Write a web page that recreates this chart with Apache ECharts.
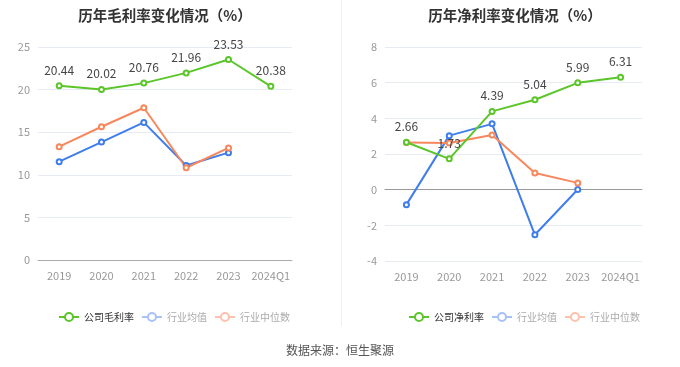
<!DOCTYPE html>
<html><head><meta charset="utf-8">
<script src="https://cdn.jsdelivr.net/npm/echarts@6/dist/echarts.min.js"></script>
<style>html,body{margin:0;padding:0;background:#fff}#c{width:680px;height:367px}</style>
</head><body><div id="c"></div>
<script>
const categories = ['2019','2020','2021','2022','2023','2024Q1'];
const grossCompany = [20.44, 20.02, 20.76, 21.96, 23.53, 20.38];
const grossIndustryAvg = [11.54, 13.84, 16.15, 11.1, 12.6, null];
const grossIndustryMedian = [13.3, 15.64, 17.87, 10.83, 13.15, null];
const netCompany = [2.66, 1.73, 4.39, 5.04, 5.99, 6.31];
const netIndustryAvg = [-0.84, 3.03, 3.69, -2.53, 0.01, null];
const netIndustryMedian = [2.64, 2.62, 3.07, 0.94, 0.38, null];
const leftTicks = {min: 0, max: 25, interval: 5};
const rightTicks = {min: -4, max: 8, interval: 2};

const GREEN = '#5bc52a', BLUE = '#3f7ded', ORANGE = '#f7875c';
const FONT = '"Noto Sans CJK SC", "Noto Sans", sans-serif';

function mkSeries(name, data, color, xi, yi, withLabel) {
  return {
    type: 'line', name, data, xAxisIndex: xi, yAxisIndex: yi,
    symbol: 'emptyCircle', symbolSize: 5,
    lineStyle: {color, width: 2}, itemStyle: {color, borderWidth: 1.5},
    label: withLabel ? {show: true, position: 'top', distance: 6, color: '#444', fontSize: 12, fontFamily: FONT} : {show: false},
    z: withLabel ? 3 : 2
  };
}
function legend(left, first) {
  return {
    left, top: 307, itemWidth: 20, itemHeight: 10, itemGap: 7,
    textStyle: {fontSize: 10, fontFamily: FONT, color: '#333'},
    data: [
      {name: first},
      {name: '行业均值', itemStyle: {color: '#a7c3f6', borderColor: '#a7c3f6'}, lineStyle: {color: '#a7c3f6'}, textStyle: {color: '#aaa'}},
      {name: '行业中位数', itemStyle: {color: '#fbc2ad', borderColor: '#fbc2ad'}, lineStyle: {color: '#fbc2ad'}, textStyle: {color: '#aaa'}}
    ]
  };
}
const xLabel = {color: '#999', fontSize: 11, fontFamily: FONT, margin: 10, interval: 0};
const yLabel = {color: '#999', fontSize: 11, fontFamily: FONT};
const split = {lineStyle: {color: '#e6ebf5'}};

const chart = echarts.init(document.getElementById('c'));
chart.setOption({
  animation: false,
  title: [
    {text: '历年毛利率变化情况（%）', left: 160, top: 3, textAlign: 'center', textStyle: {fontSize: 14.5, fontWeight: 'bold', color: '#333', fontFamily: FONT}},
    {text: '历年净利率变化情况（%）', left: 510, top: 3, textAlign: 'center', textStyle: {fontSize: 14.5, fontWeight: 'bold', color: '#333', fontFamily: FONT}}
  ],
  legend: [legend(53, '公司毛利率'), legend(403, '公司净利率')],
  grid: [
    {left: 38, right: 388, top: 47, bottom: 107},
    {left: 385, right: 38, top: 47, bottom: 106}
  ],
  xAxis: [
    {type: 'category', gridIndex: 0, data: categories, axisLabel: xLabel,
     axisLine: {lineStyle: {color: '#aaa'}}, axisTick: {alignWithLabel: true, interval: 0, lineStyle: {color: '#aaa'}}},
    {type: 'category', gridIndex: 1, data: categories, axisLabel: xLabel,
     axisLine: {onZero: false, show: false}, axisTick: {show: false}},
    {type: 'category', gridIndex: 1, data: categories, axisLabel: {show: false},
     axisLine: {onZero: true, lineStyle: {color: '#999'}}, axisTick: {alignWithLabel: true, interval: 0, lineStyle: {color: '#999'}}}
  ],
  yAxis: [
    {type: 'value', gridIndex: 0, min: leftTicks.min, max: leftTicks.max, interval: leftTicks.interval,
     axisLabel: yLabel, axisLine: {show: false}, axisTick: {show: false}, splitLine: split},
    {type: 'value', gridIndex: 1, min: rightTicks.min, max: rightTicks.max, interval: rightTicks.interval,
     axisLabel: yLabel, axisLine: {show: false}, axisTick: {show: false}, splitLine: split}
  ],
  series: [
    mkSeries('行业均值', grossIndustryAvg, BLUE, 0, 0, false),
    mkSeries('行业中位数', grossIndustryMedian, ORANGE, 0, 0, false),
    mkSeries('公司毛利率', grossCompany, GREEN, 0, 0, true),
    mkSeries('行业均值', netIndustryAvg, BLUE, 1, 1, false),
    mkSeries('行业中位数', netIndustryMedian, ORANGE, 1, 1, false),
    mkSeries('公司净利率', netCompany, GREEN, 1, 1, true)
  ],
  graphic: [
    {type: 'rect', shape: {x: 341, y: 0, width: 1, height: 326}, style: {fill: '#f0f0f0'}, silent: true},
    {type: 'text', left: 'center', top: 344, style: {text: '数据来源：恒生聚源', fill: '#555', fontSize: 12, fontFamily: FONT}}
  ]
});
</script></body></html>
